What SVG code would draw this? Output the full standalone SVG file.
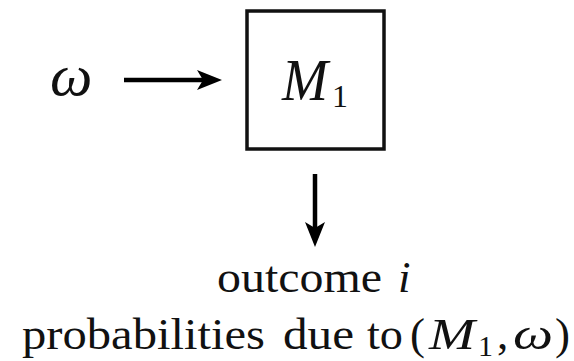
<svg xmlns="http://www.w3.org/2000/svg" width="574" height="361" viewBox="0 0 574 361">
<style>
.c{stroke:#000;stroke-width:4.5;fill:none}
.box{fill:#fff;stroke:#111;stroke-width:3.5}
text{fill:#111}
</style>
<defs>
<marker id="ah" viewBox="0 0 25 24" refX="6" refY="12" markerWidth="25" markerHeight="24" markerUnits="userSpaceOnUse" orient="auto">
<path d="M0,2 L25,12 L0,22 L6,12 Z" fill="#000"/>
</marker>
</defs>
<rect width="574" height="361" fill="#fff"/>
<g id="input" font-family="Liberation Serif, serif">
<text font-style="italic" x="50" y="95" font-size="60">ω</text>
</g>
<g id="M1" font-family="Liberation Serif, serif">
<rect class="box" x="247" y="11" width="137" height="138"/>
<text font-style="italic" x="282" y="100" font-size="60" textLength="46" lengthAdjust="spacingAndGlyphs">M</text>
<text x="332" y="107" font-size="32">1</text>
</g>
<g id="output" font-family="Liberation Serif, serif" font-size="45">
<text x="217" y="292" textLength="165" lengthAdjust="spacingAndGlyphs">outcome</text>
<text font-style="italic" x="398" y="292">i</text>
<text x="22" y="349" textLength="243" lengthAdjust="spacingAndGlyphs">probabilities</text>
<text x="283" y="349" textLength="71" lengthAdjust="spacingAndGlyphs">due</text>
<text x="367" y="349" textLength="36" lengthAdjust="spacingAndGlyphs">to</text>
<text x="410" y="349">(</text>
<text font-style="italic" x="429" y="349" textLength="46" lengthAdjust="spacingAndGlyphs">M</text>
<text x="478" y="356" font-size="30">1</text>
<text x="497" y="349">,</text>
<text font-style="italic" x="513" y="349" textLength="40" lengthAdjust="spacingAndGlyphs">ω</text>
<text x="555" y="349">)</text>
</g>
<g id="connectors">
<line class="c" x1="124" y1="80" x2="203" y2="80" marker-end="url(#ah)"/>
<line class="c" x1="315" y1="174" x2="315" y2="228" marker-end="url(#ah)"/>
</g>
</svg>
